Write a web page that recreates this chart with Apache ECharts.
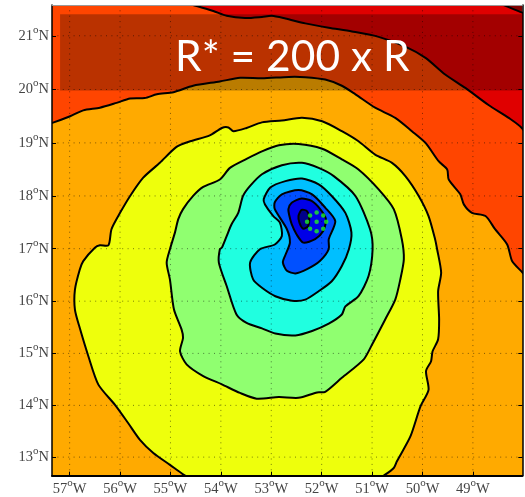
<!DOCTYPE html>
<html><head><meta charset="utf-8">
<style>html,body{margin:0;padding:0;background:#fff}#c{width:525px;height:497px}</style>
<script src="https://cdn.jsdelivr.net/npm/echarts@6/dist/echarts.min.js"></script>
</head><body><div id="c"></div>
<script>
const lonTicks=[-57,-56,-55,-54,-53,-52,-51,-50,-49];
const latTicks=[13,14,15,16,17,18,19,20,21];
const lonRange=[-57.35,-48.02];
const latRange=[12.64,21.57];
const chartTitle='R* = 200 x R';
const fillColors=['#e00000','#ff4500','#ffaa00','#eeff0c','#90ff70','#20ffe0','#00bfff','#0050ff','#0000e8','#00008b'];
const cornerColor='#800000';
const redRegion=[[-48.6,21.65],[-48.39,21.57],[-48.02,21.43],[-47.8,21.38],[-47.8,12],[-57.6,12],[-57.6,22],[-48.6,22]];
const orangeRedRegion=[[-54.8,21.65],[-54.55,21.57],[-54.15,21.46],[-53.885,21.37],[-53.52,21.33],[-53.185,21.35],[-52.99,21.37],[-52.72,21.32],[-52.325,21.23],[-51.86,21.15],[-51.4,21.08],[-50.87,20.98],[-50.34,20.8],[-49.94,20.59],[-49.55,20.28],[-49.15,20.03],[-48.69,19.71],[-48.29,19.47],[-48.02,19.27],[-47.8,18.9],[-47.8,12],[-57.6,12],[-57.6,22],[-54.8,22]];
const orangeRegion=[[-57.6,19.3],[-57.345,19.375],[-56.99,19.5],[-56.73,19.61],[-56.4,19.66],[-56.07,19.75],[-55.8,19.83],[-55.51,19.84],[-55.27,19.91],[-54.94,19.95],[-54.55,20.07],[-54.02,20.15],[-53.62,20.22],[-53.185,20.21],[-52.655,20.235],[-52.325,20.23],[-51.93,20.185],[-51.6,20.07],[-51.33,19.91],[-50.94,19.66],[-50.54,19.47],[-50.21,19.22],[-49.94,19],[-49.68,18.655],[-49.51,18.5],[-49.48,18.31],[-49.25,18.03],[-49.18,17.84],[-49.02,17.68],[-48.75,17.62],[-48.56,17.37],[-48.32,17.08],[-48.22,16.76],[-48.02,16.55],[-47.8,16.3],[-47.8,12],[-57.6,12]];
const yellowRegion=[[-54.45,12.5],[-54.71,12.64],[-55.01,12.85],[-55.34,13.08],[-55.605,13.335],[-55.84,13.66],[-56.1,14.01],[-56.43,14.4],[-56.63,14.95],[-56.8,15.49],[-56.895,15.84],[-56.895,16.22],[-56.8,16.6],[-56.73,16.765],[-56.5,17.02],[-56.4,17.065],[-56.23,17.065],[-56.17,17.37],[-56,17.68],[-55.8,18],[-55.54,18.345],[-55.21,18.625],[-54.88,18.925],[-54.61,19.03],[-54.22,19.14],[-53.98,19.28],[-53.85,19.29],[-53.75,19.22],[-53.49,19.28],[-53.185,19.385],[-52.79,19.42],[-52.39,19.47],[-51.99,19.405],[-51.6,19.22],[-51.27,19.03],[-50.94,18.78],[-50.605,18.625],[-50.34,18.375],[-50.075,18],[-49.88,17.62],[-49.75,17.18],[-49.71,16.99],[-49.63,16.545],[-49.69,16.19],[-49.67,15.65],[-49.69,15.27],[-49.8,15.04],[-49.83,14.85],[-49.93,14.66],[-49.88,14.3],[-50.04,13.98],[-50.24,13.4],[-50.51,12.915],[-50.57,12.79],[-50.77,12.64],[-51,12.5],[-51,12],[-54.45,12]];
const greenRegion=[[-55.01,16.99],[-55.075,16.735],[-55.01,16.41],[-54.93,15.84],[-54.78,15.46],[-54.75,15.3],[-54.81,15.04],[-54.68,14.79],[-54.35,14.565],[-53.98,14.405],[-53.62,14.24],[-53.29,14.13],[-52.85,14.16],[-52.46,14.145],[-52.09,14.25],[-51.93,14.26],[-51.6,14.53],[-51.17,14.88],[-51,15.17],[-50.74,15.65],[-50.54,16.03],[-50.44,16.415],[-50.37,16.8],[-50.41,17.18],[-50.57,17.75],[-50.87,18.125],[-51.27,18.5],[-51.6,18.69],[-51.99,18.89],[-52.46,18.98],[-52.85,18.955],[-53.185,18.84],[-53.49,18.7],[-53.82,18.53],[-54.02,18.31],[-54.35,18.17],[-54.55,18],[-54.75,17.75],[-54.845,17.56],[-54.91,17.31]];
const cyanRegion=[[-54.02,16.99],[-54.04,16.735],[-53.885,16.29],[-53.69,15.745],[-53.49,15.585],[-53.185,15.48],[-52.92,15.38],[-52.52,15.345],[-52.19,15.43],[-51.86,15.57],[-51.6,15.745],[-51.53,15.9],[-51.27,16.095],[-51.07,16.48],[-50.99,16.99],[-51.04,17.37],[-51.33,18],[-51.76,18.375],[-52.06,18.53],[-52.39,18.625],[-52.79,18.58],[-53.185,18.41],[-53.42,18.19],[-53.56,18],[-53.655,17.68],[-53.79,17.46],[-53.885,17.24],[-53.98,17.02]];
const lightBlueRegion=[[-53.225,16.99],[-53.42,16.735],[-53.36,16.415],[-53.185,16.255],[-52.92,16.095],[-52.59,16.01],[-52.325,16.03],[-52.06,16.19],[-51.8,16.38],[-51.6,16.67],[-51.46,16.99],[-51.41,17.31],[-51.53,17.68],[-51.8,18],[-52.06,18.22],[-52.39,18.33],[-52.72,18.28],[-53.02,18.16],[-53.15,17.94],[-53.125,17.84],[-52.96,17.62],[-52.83,17.5],[-52.79,17.24],[-52.93,17.08]];
const blueRegion=[[-52.93,17.88],[-52.79,18.03],[-52.46,18.11],[-52.19,18.03],[-51.93,17.78],[-51.73,17.525],[-51.86,17.18],[-51.86,16.99],[-52.03,16.77],[-52.29,16.61],[-52.52,16.53],[-52.69,16.58],[-52.77,16.74],[-52.72,16.88],[-52.63,17.115],[-52.69,17.37],[-52.93,17.75]];
const pureBlueRegion=[[-52.66,17.75],[-52.595,17.87],[-52.4,17.95],[-52.2,17.905],[-52.03,17.75],[-51.915,17.56],[-51.97,17.335],[-52.13,17.18],[-52.365,17.115],[-52.5,17.275],[-52.595,17.465],[-52.64,17.62]];
const navyRegion=[[-52.46,17.62],[-52.4,17.735],[-52.3,17.72],[-52.25,17.62],[-52.27,17.43],[-52.365,17.38],[-52.44,17.49]];
const greenDots=[[-52.23,17.63],[-52.1,17.685],[-51.97,17.63],[-51.91,17.51],[-51.97,17.38],[-52.1,17.33],[-52.23,17.38],[-52.29,17.51],[-52.1,17.51]];
const bandLon=[-57.19,-47.8];
const bandLat=[19.98,21.4];

const merc=lat=>180/Math.PI*Math.log(Math.tan(Math.PI/4+lat*Math.PI/360));
const invMerc=v=>(2*Math.atan(Math.exp(v*Math.PI/180))-Math.PI/2)*180/Math.PI;
const regions=[redRegion,orangeRedRegion,orangeRegion,yellowRegion,greenRegion,cyanRegion,lightBlueRegion,blueRegion,pureBlueRegion,navyRegion];
const yTicks=latTicks.map(merc);
const rich={n:{fontFamily:'Liberation Serif',fontSize:14.5,color:'#444'},s:{fontFamily:'Liberation Serif',fontSize:11,color:'#444',padding:[0,0,12,0]}};
const labelBase={show:true,rich:rich,fontFamily:'Liberation Serif',fontSize:14.5,color:'#444'};
const noLine={show:false};
const dotted={stroke:'rgba(0,0,0,0.5)',lineWidth:1,lineDash:[1,4.4]};

const option={
 animation:false,
 backgroundColor:'#fff',
 title:{text:chartTitle,left:170,top:31,textStyle:{color:'#fff',fontFamily:'Lato',fontWeight:'normal',fontSize:42.5},z:30},
 grid:{left:52,right:2.7,top:5,bottom:21.3,show:true,backgroundColor:cornerColor,borderWidth:0},
 xAxis:[
  {type:'value',min:lonRange[0],max:lonRange[1],position:'bottom',z:20,
   axisLine:{show:true,onZero:false,lineStyle:{color:'#000',width:2}},
   splitLine:noLine,
   axisTick:{show:true,inside:true,length:4,customValues:lonTicks,lineStyle:{color:'#000'}},
   axisLabel:Object.assign({},labelBase,{margin:2,customValues:lonTicks,hideOverlap:false,showMinLabel:true,showMaxLabel:true,
     formatter:v=>'{n|'+Math.abs(v)+'}{s|o}{n|W}'})},
  {type:'value',min:lonRange[0],max:lonRange[1],position:'top',z:20,
   axisLine:{show:true,onZero:false,lineStyle:{color:'#999',width:1}},
   splitLine:noLine,axisTick:noLine,axisLabel:noLine}
 ],
 yAxis:[
  {type:'value',min:merc(latRange[0]),max:merc(latRange[1]),position:'left',z:20,
   axisLine:{show:true,onZero:false,lineStyle:{color:'#000',width:1.5}},
   splitLine:noLine,
   axisTick:{show:true,inside:true,length:4,customValues:yTicks,lineStyle:{color:'#000'}},
   axisLabel:Object.assign({},labelBase,{margin:3,customValues:yTicks,
     formatter:v=>'{n|'+Math.round(invMerc(v))+'}{s|o}{n|N}'})},
  {type:'value',min:merc(latRange[0]),max:merc(latRange[1]),position:'right',z:20,
   axisLine:{show:true,onZero:false,lineStyle:{color:'#000',width:1.5}},
   splitLine:noLine,
   axisTick:{show:true,inside:true,length:4,customValues:yTicks,lineStyle:{color:'#000'}},
   axisLabel:noLine}
 ],
 series:[
  {type:'custom',name:'contours',z:2,clip:true,silent:true,
   data:regions.map((_,i)=>[i]),
   renderItem:(p,api)=>{
     const i=p.dataIndex;
     const pts=regions[i].map(d=>api.coord([d[0],merc(d[1])]));
     return {type:'polygon',shape:{points:pts,smooth:0.25},style:{fill:fillColors[i],stroke:'#000',lineWidth:2}};
   }},
  {type:'custom',name:'band',z:3,clip:true,silent:true,data:[[0]],
   renderItem:(p,api)=>{
     const a=api.coord([bandLon[0],merc(bandLat[1])]),b=api.coord([bandLon[1],merc(bandLat[0])]);
     return {type:'rect',shape:{x:a[0],y:a[1],width:b[0]-a[0],height:b[1]-a[1]},style:{fill:'rgba(0,0,0,0.27)'}};
   }},
  {type:'custom',name:'lonGrid',z:4,clip:true,silent:true,data:lonTicks.map(v=>[v]),
   renderItem:(p,api)=>{
     const v=lonTicks[p.dataIndex];
     const a=api.coord([v,merc(latRange[0])]),b=api.coord([v,merc(latRange[1])]);
     return {type:'line',shape:{x1:a[0],y1:a[1],x2:b[0],y2:b[1]},style:dotted};
   }},
  {type:'custom',name:'latGrid',z:4,clip:true,silent:true,data:latTicks.map(v=>[v]),
   renderItem:(p,api)=>{
     const v=merc(latTicks[p.dataIndex]);
     const a=api.coord([lonRange[0],v]),b=api.coord([lonRange[1],v]);
     return {type:'line',shape:{x1:a[0],y1:a[1],x2:b[0],y2:b[1]},style:dotted};
   }},
  {type:'scatter',name:'dots',z:5,silent:true,symbolSize:4.5,itemStyle:{color:'#20f020'},
   data:greenDots.map(d=>[d[0],merc(d[1])])}
 ]
};
echarts.init(document.getElementById('c'),null,{renderer:'canvas'}).setOption(option);
</script></body></html>
